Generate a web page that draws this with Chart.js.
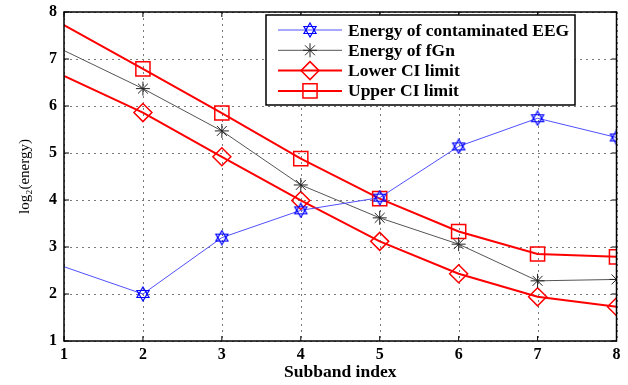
<!DOCTYPE html>
<html>
<head>
<meta charset="utf-8">
<script src="https://cdn.jsdelivr.net/npm/chart.js@4.4.1/dist/chart.umd.min.js"></script>
<style>
  body { margin: 0; background: #fff; }
  #wrap { width: 628px; height: 385px; }
</style>
</head>
<body>
<div id="wrap"><canvas id="chart"></canvas></div>
<script>
// data
const subbands = [1, 2, 3, 4, 5, 6, 7, 8];
const eegEnergy = [2.58, 2.0, 3.2, 3.78, 4.05, 5.14, 5.74, 5.33];
const fgnEnergy = [7.18, 6.37, 5.47, 4.32, 3.62, 3.06, 2.28, 2.31];
const lowerCI = [6.64, 5.86, 4.92, 3.99, 3.12, 2.43, 1.94, 1.73];
const upperCI = [7.72, 6.79, 5.85, 4.88, 4.03, 3.33, 2.85, 2.79];
const yTicks = [1, 2, 3, 4, 5, 6, 7, 8];

const serif = "'Liberation Serif', 'Times New Roman', serif";

// hexagram marker (matlab 'h' style) as a small canvas
function makeHexagram(size, color) {
  const c = document.createElement('canvas');
  c.width = size; c.height = size;
  const g = c.getContext('2d');
  const r = size / 2 - 1, cx = size / 2, cy = size / 2;
  g.strokeStyle = color;
  g.lineWidth = 1.2;
  for (let t = 0; t < 2; t++) {
    g.beginPath();
    for (let k = 0; k < 3; k++) {
      const a = (t === 0 ? -Math.PI / 2 : Math.PI / 2) + k * 2 * Math.PI / 3;
      const px = cx + r * Math.cos(a), py = cy + r * Math.sin(a);
      if (k === 0) g.moveTo(px, py); else g.lineTo(px, py);
    }
    g.closePath();
    g.stroke();
  }
  return c;
}
const hexStar = makeHexagram(16, '#0000ff');

function toPoints(vals) {
  return subbands.map((x, i) => ({ x: x, y: vals[i] }));
}
// first point sits on the left axis and has no marker in the original
function radii(r) {
  return subbands.map((x, i) => (i === 0 ? 0 : r));
}

const markerSizes = [8, 7, 9, 10];

const datasets = [
  {
    label: 'Energy of contaminated EEG',
    data: toPoints(eegEnergy),
    borderColor: '#5050ff',
    borderWidth: 1,
    pointStyle: hexStar,
    pointBorderColor: '#0000ff'
  },
  {
    label: 'Energy of fGn',
    data: toPoints(fgnEnergy),
    borderColor: '#555555',
    borderWidth: 1,
    pointStyle: 'star',
    pointBorderColor: '#222222'
  },
  {
    label: 'Lower CI limit',
    data: toPoints(lowerCI),
    borderColor: '#ff0000',
    borderWidth: 2,
    pointStyle: 'rectRot',
    pointBorderWidth: 1.5,
    pointBorderColor: '#ff0000'
  },
  {
    label: 'Upper CI limit',
    data: toPoints(upperCI),
    borderColor: '#ff0000',
    borderWidth: 2,
    pointStyle: 'rect',
    pointBorderWidth: 1.5,
    pointBorderColor: '#ff0000'
  }
];
datasets.forEach((d, i) => {
  d.pointRadius = radii(markerSizes[i]);
  d.backgroundColor = 'rgba(0,0,0,0)';
  d.pointBackgroundColor = 'rgba(0,0,0,0)';
  d.tension = 0;
});

// dotted grid drawn under the lines
const dottedGrid = {
  id: 'dottedGrid',
  beforeDatasetsDraw(chart) {
    const ctx = chart.ctx;
    const a = chart.chartArea;
    const xs = chart.scales.x, ys = chart.scales.y;
    ctx.save();
    ctx.strokeStyle = '#7a7a7a';
    ctx.lineWidth = 1;
    ctx.setLineDash([2, 4]);
    ctx.beginPath();
    subbands.forEach(v => {
      const px = Math.round(xs.getPixelForValue(v)) + 0.5;
      ctx.moveTo(px, a.top); ctx.lineTo(px, a.bottom);
    });
    yTicks.forEach(v => {
      const py = Math.round(ys.getPixelForValue(v)) + 0.5;
      ctx.moveTo(a.left, py); ctx.lineTo(a.right, py);
    });
    ctx.stroke();
    ctx.restore();
  }
};

// box around the axes, inward ticks, and the legend box
const matlabFrame = {
  id: 'matlabFrame',
  afterDraw(chart) {
    const ctx = chart.ctx;
    const a = chart.chartArea;
    const xs = chart.scales.x, ys = chart.scales.y;
    ctx.save();
    ctx.strokeStyle = '#000';
    ctx.lineWidth = 1.5;
    ctx.strokeRect(a.left, a.top, a.right - a.left, a.bottom - a.top);
    ctx.lineWidth = 1;
    ctx.beginPath();
    subbands.forEach(v => {
      const px = xs.getPixelForValue(v);
      ctx.moveTo(px, a.bottom); ctx.lineTo(px, a.bottom - 5);
      ctx.moveTo(px, a.top); ctx.lineTo(px, a.top + 5);
    });
    yTicks.forEach(v => {
      const py = ys.getPixelForValue(v);
      ctx.moveTo(a.left, py); ctx.lineTo(a.left + 5, py);
      ctx.moveTo(a.right, py); ctx.lineTo(a.right - 5, py);
    });
    ctx.stroke();

    // legend
    const bx = 266, by = 15, bw = 309, bh = 90;
    ctx.fillStyle = '#fff';
    ctx.fillRect(bx, by, bw, bh);
    ctx.lineWidth = 1.5;
    ctx.strokeStyle = '#000';
    ctx.strokeRect(bx, by, bw, bh);
    ctx.font = 'bold 17.5px ' + serif;
    ctx.textBaseline = 'middle';
    chart.data.datasets.forEach((d, i) => {
      const y = by + 15 + i * 20.3;
      ctx.strokeStyle = d.borderColor;
      ctx.lineWidth = d.borderWidth;
      ctx.beginPath();
      ctx.moveTo(278, y); ctx.lineTo(342, y);
      ctx.stroke();
      ctx.strokeStyle = d.pointBorderColor;
      ctx.fillStyle = 'rgba(0,0,0,0)';
      ctx.lineWidth = d.pointBorderWidth || 1;
      Chart.helpers.drawPoint(ctx, {
        pointStyle: d.pointStyle,
        radius: markerSizes[i],
        borderWidth: d.pointBorderWidth || 1,
        rotation: 0
      }, 310, y);
      ctx.fillStyle = '#000';
      ctx.fillText(d.label, 348, y + 1);
    });
    ctx.restore();
  }
};

new Chart(document.getElementById('chart'), {
  type: 'line',
  data: { datasets: datasets },
  options: {
    responsive: true,
    maintainAspectRatio: false,
    animation: false,
    layout: { padding: { top: 12, right: 11, left: 16, bottom: 0 } },
    plugins: {
      legend: { display: false },
      tooltip: { enabled: false }
    },
    scales: {
      x: {
        type: 'linear',
        min: 1,
        max: 8,
        afterFit: s => { s.height = 44; s.paddingLeft = 0; s.paddingRight = 0; },
        ticks: {
          stepSize: 1,
          color: '#000',
          padding: 4,
          font: { family: serif, size: 16, weight: 'bold' }
        },
        grid: { display: false, drawTicks: false },
        border: { display: false },
        title: {
          display: true,
          text: 'Subband index',
          color: '#000',
          padding: { top: 0, bottom: 2 },
          font: { family: serif, size: 17.5, weight: 'bold' }
        }
      },
      y: {
        min: 1,
        max: 8,
        afterFit: s => { s.width = 48; s.paddingTop = 0; s.paddingBottom = 0; },
        ticks: {
          stepSize: 1,
          color: '#000',
          padding: 7,
          font: { family: serif, size: 16, weight: 'bold' }
        },
        grid: { display: false, drawTicks: false },
        border: { display: false },
        title: {
          display: true,
          text: 'log₂(energy)',
          color: '#000',
          padding: 0,
          font: { family: serif, size: 15 }
        }
      }
    }
  },
  plugins: [dottedGrid, matlabFrame]
});
</script>
</body>
</html>
